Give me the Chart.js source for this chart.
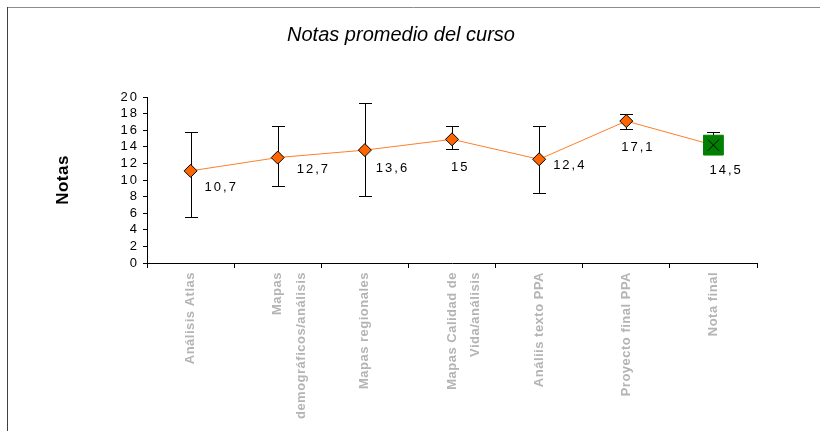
<!DOCTYPE html>
<html>
<head>
<meta charset="utf-8">
<script src="https://cdn.jsdelivr.net/npm/chart.js@4.4.1/dist/chart.umd.min.js"></script>
<style>
    html, body { margin: 0; padding: 0; background: #fff; }
    #wrap { width: 820px; height: 431px; position: relative; }
</style>
</head>
<body>
<div id="wrap"><canvas id="notasChart"></canvas></div>
<script>
// Datos del gráfico
const categorias = [
    'Análisis Atlas',
    ['Mapas', 'demográficos/análisis'],
    'Mapas regionales',
    ['Mapas Calidad de', 'Vida/análisis'],
    'Análiis texto PPA',
    'Proyecto final PPA',
    'Nota final'
];
const notas = [11.1, 12.7, 13.6, 14.9, 12.5, 17.1, 14.2];
const etiquetas = ['10,7', '12,7', '13,6', '15', '12,4', '17,1', '14,5'];
const errorSup = [15.8, 16.5, 19.3, 16.5, 16.5, 18.0, 15.8];
const errorInf = [5.6, 9.3, 8.1, 13.7, 8.4, 16.2, 13.1];
const tituloGrafico = 'Notas promedio del curso';
const tituloEjeY = 'Notas';

// desplazamiento de cada etiqueta respecto a su punto (px)
const despEtiquetas = [[14, 17], [19, 12], [11, 18], [-1, 28], [14, 6], [-5, 26], [-4, 25]];

Chart.defaults.font.family = '"Liberation Sans", Arial, sans-serif';

const ultimo = notas.length - 1;

// Orden de dibujo: marco -> título Y y etiquetas X (z 0) -> datos -> números Y (z 1) -> título
const marcoYEspaciado = {
    id: 'marcoYEspaciado',
    beforeDraw(chart) {
        const ctx = chart.ctx;
        ctx.save();
        ctx.lineWidth = 1;
        ctx.strokeStyle = '#8c8c8c';
        ctx.beginPath();
        ctx.moveTo(7, 7.5);
        ctx.lineTo(820, 7.5);
        ctx.stroke();
        ctx.strokeStyle = '#404040';
        ctx.beginPath();
        ctx.moveTo(7.5, 7);
        ctx.lineTo(7.5, 431);
        ctx.stroke();
        ctx.restore();
        ctx.letterSpacing = '0.5px';
    }
};

const barrasError = {
    id: 'barrasError',
    beforeDatasetsDraw(chart) {
        const { ctx, scales: { x, y } } = chart;
        ctx.save();
        ctx.strokeStyle = '#000';
        ctx.lineWidth = 1;
        notas.forEach((v, i) => {
            const px = Math.round(x.getPixelForValue(i)) + 0.5;
            const top = Math.round(y.getPixelForValue(errorSup[i])) + 0.5;
            const bot = Math.round(y.getPixelForValue(errorInf[i])) + 0.5;
            ctx.beginPath();
            ctx.moveTo(px, top);
            ctx.lineTo(px, bot);
            ctx.moveTo(px - 6.5, top);
            ctx.lineTo(px + 6.5, top);
            ctx.moveTo(px - 6.5, bot);
            ctx.lineTo(px + 6.5, bot);
            ctx.stroke();
        });
        ctx.restore();
    },
    afterDatasetsDraw(chart) {
        const ctx = chart.ctx;
        const puntos = chart.getDatasetMeta(0).data;
        // números del eje Y y etiquetas de datos más espaciados, como en Excel
        ctx.letterSpacing = '2px';
        ctx.save();
        ctx.font = '13px "Liberation Sans", Arial, sans-serif';
        ctx.fillStyle = '#000';
        ctx.textAlign = 'left';
        ctx.textBaseline = 'middle';
        etiquetas.forEach((t, i) => {
            const p = puntos[i];
            ctx.fillText(t, p.x + despEtiquetas[i][0], p.y + despEtiquetas[i][1]);
        });
        ctx.restore();
    }
};

const tituloPlugin = {
    id: 'tituloPlugin',
    afterDraw(chart) {
        const ctx = chart.ctx;
        ctx.letterSpacing = '0px';
        ctx.save();
        ctx.font = 'italic 20px "Liberation Sans", Arial, sans-serif';
        ctx.fillStyle = '#000';
        ctx.textAlign = 'center';
        ctx.textBaseline = 'middle';
        ctx.fillText(tituloGrafico, 401, 35);
        ctx.restore();
    }
};

new Chart(document.getElementById('notasChart'), {
    type: 'line',
    data: {
        labels: categorias,
        datasets: [{
            data: notas,
            order: 1,
            borderColor: '#ff7f2a',
            borderWidth: 1,
            tension: 0,
            pointStyle: notas.map((v, i) => i === ultimo ? 'rect' : 'rectRot'),
            pointRadius: notas.map((v, i) => i === ultimo ? 14 : 6.5),
            pointBackgroundColor: notas.map((v, i) => i === ultimo ? '#008000' : '#ff6600'),
            pointBorderColor: notas.map((v, i) => i === ultimo ? '#008000' : '#000'),
            pointBorderWidth: 1
        }, {
            data: notas.map((v, i) => i === ultimo ? v : null),
            order: 0,
            showLine: false,
            pointStyle: 'crossRot',
            pointRadius: 8,
            pointBorderColor: '#000',
            pointBorderWidth: 1
        }]
    },
    options: {
        responsive: true,
        maintainAspectRatio: false,
        animation: false,
        events: [],
        layout: { padding: { left: 10, right: 63, top: 97, bottom: 0 } },
        plugins: {
            legend: { display: false },
            tooltip: { enabled: false }
        },
        scales: {
            x: {
                offset: true,
                grid: { offset: true, drawOnChartArea: false, tickLength: 5, color: '#000' },
                border: { color: '#000', width: 1 },
                ticks: {
                    z: 0,
                    minRotation: 90,
                    maxRotation: 90,
                    padding: 4,
                    color: '#b4b4b4',
                    font: { size: 13, weight: 'bold', lineHeight: 1.8 }
                },
                afterFit: (scale) => { scale.height = 168; }
            },
            y: {
                min: 0,
                max: 20,
                grid: { drawOnChartArea: false, tickLength: 4, color: '#000' },
                border: { color: '#000', width: 1 },
                ticks: {
                    z: 1,
                    stepSize: 2,
                    autoSkip: false,
                    padding: 4,
                    color: '#000',
                    font: { size: 13 }
                },
                title: {
                    display: true,
                    text: tituloEjeY,
                    color: '#000',
                    font: { size: 17, weight: 'bold' },
                    padding: { top: 43, bottom: 0 }
                },
                afterFit: (scale) => { scale.width = 137; }
            }
        }
    },
    plugins: [marcoYEspaciado, barrasError, tituloPlugin]
});
</script>
</body>
</html>
